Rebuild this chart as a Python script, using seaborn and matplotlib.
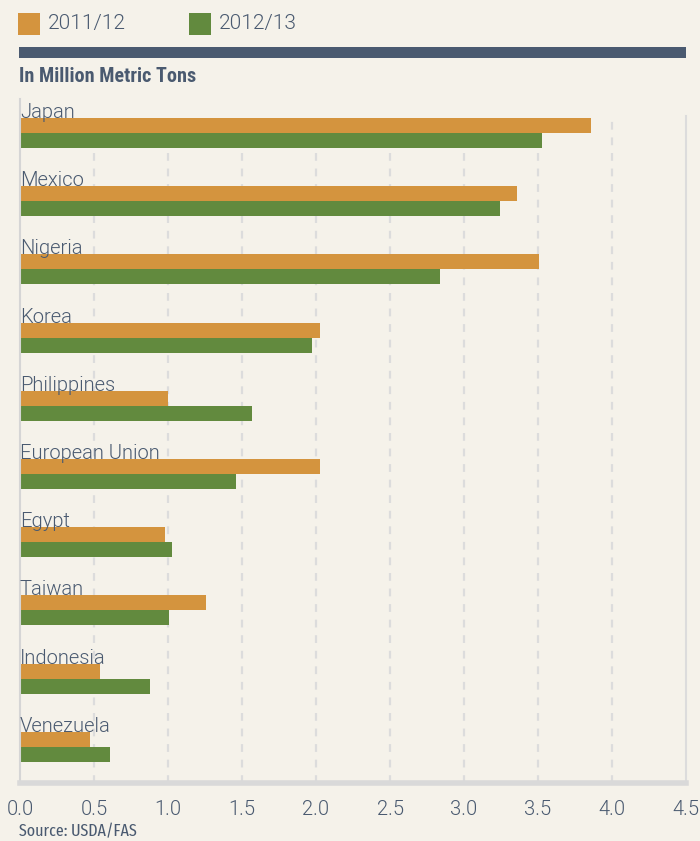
import matplotlib
matplotlib.use("Agg")
import matplotlib.pyplot as plt
from matplotlib.patches import Rectangle
import seaborn as sns
import pandas as pd

countries = ["Japan", "Mexico", "Nigeria", "Korea", "Philippines", "European Union",
             "Egypt", "Taiwan", "Indonesia", "Venezuela"]
y2011 = [3.86, 3.36, 3.51, 2.03, 1.00, 2.03, 0.98, 1.26, 0.54, 0.47]
y2012 = [3.53, 3.24, 2.84, 1.97, 1.57, 1.46, 1.03, 1.01, 0.88, 0.61]
seasons = ["2011/12", "2012/13"]
xticks = [0.0, 0.5, 1.0, 1.5, 2.0, 2.5, 3.0, 3.5, 4.0, 4.5]

BG = "#F5F2EA"
TXT = "#4A5A70"
COLORS = ["#D4943E", "#628A3E"]
MAIN = ["Roboto", "DejaVu Sans"]
COND = ["Roboto Condensed", "DejaVu Sans"]
XCOND = ["Fira Sans Extra Condensed", "Roboto Condensed", "DejaVu Sans"]

df = pd.DataFrame({
    "country": countries * 2,
    "value": y2011 + y2012,
    "season": [seasons[0]] * len(countries) + [seasons[1]] * len(countries),
})

sns.set_theme(style="white")
plt.rcParams["font.family"] = MAIN

W, H = 700, 841
fig = plt.figure(figsize=(W / 100, H / 100), dpi=100, facecolor=BG)

def fx(px):
    return px / W

def fy(py):
    return 1 - py / H

ax = fig.add_axes([fx(20), fy(783), fx(686) - fx(20), fy(99) - fy(783)])
ax.set_facecolor(BG)

sns.barplot(data=df, y="country", x="value", hue="season", order=countries,
            hue_order=seasons, palette=COLORS, orient="h", width=0.44,
            saturation=1, legend=False, ax=ax, linewidth=0)

ax.set_xlim(0, 4.5)
ax.set_ylim(len(countries) - 1 + 0.53, -0.5)
ax.set_xticks(xticks)
ax.set_xticklabels([f"{t:.1f}" for t in xticks], fontsize=14.5, color=TXT,
                   family=MAIN, fontweight=300)
ax.tick_params(axis="x", length=0, pad=12)
ax.set_yticks([])
ax.set_xlabel("")
ax.set_ylabel("")

for t in xticks[1:-1]:
    ax.plot([t, t], [len(countries) - 1 + 0.53, -0.25], color="#DCDCDC",
            lw=1.6, ls=(0, (3.5, 3.5)), zorder=0)

for i, c in enumerate(countries):
    ax.text(0, i - 0.22, c, fontsize=14.5, color=TXT, ha="left", va="baseline",
            zorder=5, family=MAIN, fontweight=300)

ax.spines["top"].set_visible(False)
ax.spines["bottom"].set_color("#D9D9D9")
ax.spines["bottom"].set_linewidth(4)
ax.spines["left"].set_color("#D5D5D5")
ax.spines["left"].set_linewidth(1.5)
ax.spines["right"].set_color("#DCDCDC")
ax.spines["right"].set_linewidth(1.5)
ax.spines["right"].set_bounds(len(countries) - 1 + 0.53, -0.25)

# Legend
for px, col, lab in [(18, COLORS[0], seasons[0]), (189, COLORS[1], seasons[1])]:
    fig.add_artist(Rectangle((fx(px), fy(35)), fx(22), fy(13) - fy(35),
                             transform=fig.transFigure, color=col, lw=0))
    fig.text(fx(px + 30), fy(24), lab, fontsize=15, color=TXT, ha="left",
             va="center", family=MAIN, fontweight=300)

# Dark rule
fig.add_artist(Rectangle((fx(19), fy(58)), fx(686) - fx(19), fy(47) - fy(58),
                         transform=fig.transFigure, color="#4A5A70", lw=0))

fig.text(fx(19), fy(76), "In Million Metric Tons", fontsize=14.5, color=TXT,
         fontweight="bold", family=COND, ha="left", va="center")

fig.text(fx(19), fy(832), "Source: USDA/FAS", fontsize=12.5, color=TXT,
         family=XCOND, ha="left", va="center")

fig.savefig("out.png", dpi=100, facecolor=BG)
